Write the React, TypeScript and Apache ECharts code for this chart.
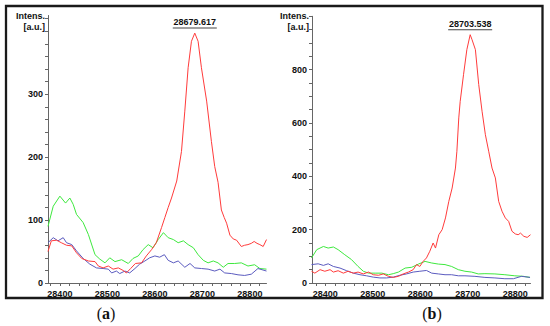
import React, { useEffect, useRef } from "react";
import * as echarts from "echarts";

// ---------- Panel (a) ----------
const massA_red = [28375, 28382, 28393, 28403, 28414, 28425, 28435, 28446, 28460, 28474, 28481, 28491, 28502, 28512, 28523, 28533, 28540, 28549, 28559, 28572, 28582, 28593, 28603, 28614, 28621, 28628, 28635, 28646, 28656, 28663, 28670, 28677, 28684, 28691, 28698, 28709, 28719, 28726, 28733, 28740, 28746, 28751, 28758, 28765, 28772, 28778, 28782, 28789, 28796, 28803, 28809, 28815, 28821, 28828, 28835];
const intA_red = [50, 67, 68, 64, 60, 59, 48, 39, 35, 34, 27, 24, 27, 22, 24, 20, 16, 23, 31, 32, 43, 53, 64, 88, 104, 120, 135, 162, 209, 273, 342, 384, 397, 384, 342, 289, 225, 185, 160, 116, 104, 95, 76, 70, 68, 62, 58, 60, 61, 63, 66, 63, 61, 58, 69];

const massA_green = [28375, 28386, 28400, 28412, 28421, 28428, 28435, 28449, 28460, 28474, 28484, 28495, 28505, 28516, 28530, 28544, 28554, 28565, 28575, 28586, 28596, 28607, 28618, 28628, 28639, 28649, 28660, 28670, 28681, 28691, 28702, 28712, 28723, 28733, 28744, 28754, 28768, 28782, 28796, 28810, 28821, 28835];
const intA_green = [90, 122, 138, 127, 135, 125, 109, 96, 77, 45, 38, 32, 40, 34, 37, 31, 39, 43, 53, 61, 56, 69, 80, 72, 69, 64, 67, 61, 56, 45, 36, 32, 35, 32, 25, 31, 31, 32, 27, 29, 23, 22];

const massA_blue = [28375, 28386, 28396, 28407, 28414, 28425, 28435, 28449, 28463, 28477, 28491, 28502, 28509, 28519, 28526, 28537, 28547, 28558, 28568, 28579, 28589, 28600, 28610, 28620, 28628, 28639, 28649, 28663, 28674, 28684, 28698, 28712, 28726, 28737, 28747, 28761, 28775, 28789, 28803, 28817, 28835];
const intA_blue = [64, 72, 67, 72, 64, 61, 51, 39, 30, 24, 23, 22, 16, 19, 15, 19, 16, 23, 30, 35, 40, 43, 41, 45, 36, 32, 35, 25, 31, 24, 23, 22, 19, 22, 16, 15, 13, 12, 14, 23, 19];

// ---------- Panel (b) ----------
const massB_red = [28371, 28378, 28389, 28399, 28410, 28417, 28427, 28438, 28448, 28459, 28469, 28480, 28491, 28501, 28512, 28522, 28533, 28543, 28554, 28564, 28575, 28585, 28592, 28599, 28606, 28613, 28620, 28627, 28632, 28639, 28646, 28653, 28660, 28667, 28674, 28677, 28681, 28684, 28691, 28698, 28705, 28709, 28716, 28723, 28730, 28737, 28744, 28751, 28758, 28765, 28772, 28779, 28786, 28793, 28800, 28806, 28811, 28818, 28825, 28832];
const intB_red = [44, 37, 50, 44, 50, 41, 46, 37, 44, 37, 41, 34, 41, 31, 29, 34, 25, 21, 25, 34, 41, 50, 69, 62, 81, 94, 119, 150, 131, 181, 200, 244, 306, 356, 431, 494, 619, 681, 781, 875, 931, 912, 875, 744, 644, 556, 494, 431, 394, 306, 269, 244, 231, 194, 184, 181, 187, 175, 171, 181];

const massB_green = [28371, 28382, 28396, 28406, 28417, 28427, 28441, 28455, 28469, 28480, 28491, 28505, 28519, 28533, 28543, 28554, 28568, 28582, 28596, 28610, 28624, 28638, 28652, 28666, 28680, 28694, 28708, 28722, 28736, 28757, 28778, 28799, 28817, 28831];
const intB_green = [94, 125, 137, 131, 135, 125, 106, 88, 62, 44, 37, 37, 37, 31, 35, 41, 56, 59, 71, 81, 75, 71, 69, 62, 50, 44, 41, 34, 35, 34, 31, 27, 25, 21];

const massB_blue = [28371, 28385, 28396, 28406, 28417, 28431, 28445, 28459, 28473, 28487, 28501, 28515, 28529, 28543, 28557, 28571, 28585, 28599, 28613, 28624, 28638, 28652, 28666, 28680, 28694, 28715, 28736, 28757, 28778, 28796, 28813, 28831];
const intB_blue = [69, 72, 66, 72, 62, 56, 46, 37, 31, 27, 22, 19, 19, 22, 29, 34, 41, 44, 47, 37, 34, 31, 31, 27, 27, 25, 21, 19, 16, 16, 25, 21];

// ---------- Ticks / labels ----------
const xTickLabels = [28400, 28500, 28600, 28700, 28800];
const yTickLabelsA = [0, 100, 200, 300];
const yTickLabelsB = [0, 200, 400, 600, 800];
const peakA = { mass: 28684, intensity: 397, label: "28679.617" };
const peakB = { mass: 28705, intensity: 931, label: "28703.538" };

const RED = "#ff3b3b";
const GREEN = "#3ee83e";
const BLUE = "#5b5bbf";
const FONT = "Liberation Sans";

function pairs(m: number[], v: number[]) {
  return m.map((x, i) => [x, v[i]]);
}
function range(from: number, to: number, step: number) {
  const out: number[] = [];
  for (let v = from; v <= to + 1e-9; v += step) out.push(v);
  return out;
}

export default function App() {
  const ref = useRef<HTMLDivElement>(null);
  useEffect(() => {
    if (!ref.current) return;
    const chart = echarts.init(ref.current, undefined, { renderer: "svg" });

    const axisLineStyle = { lineStyle: { color: "#666", width: 1 } };
    const labelStyle = { fontFamily: FONT, fontSize: 9, fontWeight: "bold" as const, color: "#111" };
    const plain = (v: number) => String(Math.round(v));

    const xAxis = (gridIndex: number, min: number, max: number) => ({
      type: "value",
      gridIndex,
      min,
      max,
      axisLine: axisLineStyle,
      splitLine: { show: false },
      axisTick: { show: true, length: 3, lineStyle: { color: "#666" }, customValues: range(28380, 28820, 20).filter((v) => v > min && v < max) },
      axisLabel: { ...labelStyle, margin: 6, customValues: xTickLabels, formatter: plain },
    });
    const yAxis = (gridIndex: number, max: number, tickStep: number, labels: number[]) => ({
      type: "value",
      gridIndex,
      min: 0,
      max,
      axisLine: { show: true, ...axisLineStyle },
      splitLine: { show: false },
      axisTick: { show: true, length: 3, lineStyle: { color: "#666" }, customValues: range(0, max, tickStep) },
      axisLabel: { ...labelStyle, margin: 5, customValues: labels, formatter: plain },
    });

    const line = (name: string, data: number[][], color: string, idx: number, z: number) => ({
      type: "line",
      name,
      xAxisIndex: idx,
      yAxisIndex: idx,
      data,
      showSymbol: false,
      symbol: "none",
      lineStyle: { color, width: 1 },
      z,
    });

    const peakMark = (p: { mass: number; intensity: number; label: string }) => ({
      silent: true,
      data: [
        {
          coord: [p.mass, p.intensity],
          symbol: "rect",
          symbolSize: [44, 1],
          symbolOffset: [0, -5],
          itemStyle: { color: "#444" },
          label: {
            show: true,
            position: "top",
            distance: 1,
            formatter: p.label,
            fontFamily: FONT,
            fontSize: 9,
            fontWeight: "bold",
            color: "#111",
          },
        },
      ],
    });

    const redA = line("red a", pairs(massA_red, intA_red), RED, 0, 5);
    (redA as any).markPoint = peakMark(peakA);
    const redB = line("red b", pairs(massB_red, intB_red), RED, 1, 5);
    (redB as any).markPoint = peakMark(peakB);

    const axisNameText = (x: number, y: number, text: string) => ({
      type: "text",
      x,
      y,
      style: { text, fontFamily: FONT, fontSize: 9, fontWeight: "bold", fill: "#111", align: "right", verticalAlign: "middle" },
    });
    const caption = (x: number, letter: string) => ({
      type: "text",
      x,
      y: 313,
      style: {
        text: "({b|" + letter + "})",
        fontFamily: "Liberation Serif",
        fontSize: 16,
        fill: "#111",
        align: "center",
        verticalAlign: "middle",
        rich: { b: { fontFamily: "Liberation Serif", fontSize: 16, fontWeight: "bold", fill: "#111" } },
      },
    });

    chart.setOption({
      animation: false,
      backgroundColor: "#fff",
      grid: [
        { left: 48, top: 15.5, right: 283.5, bottom: 43 },
        { left: 312, top: 16.3, right: 19.5, bottom: 43 },
      ],
      xAxis: [xAxis(0, 28375, 28835), xAxis(1, 28372, 28832)],
      yAxis: [yAxis(0, 425, 20, yTickLabelsA), yAxis(1, 1000, 50, yTickLabelsB)],
      series: [
        line("green a", pairs(massA_green, intA_green), GREEN, 0, 3),
        line("blue a", pairs(massA_blue, intA_blue), BLUE, 0, 4),
        redA,
        line("green b", pairs(massB_green, intB_green), GREEN, 1, 3),
        line("blue b", pairs(massB_blue, intB_blue), BLUE, 1, 4),
        redB,
      ],
      graphic: [
        { type: "rect", shape: { x: 6, y: 6, width: 536.5, height: 292 }, style: { fill: "none", stroke: "#1a1a1a", lineWidth: 2.3 }, z: 10 },
        axisNameText(45, 16, "Intens."),
        axisNameText(45, 27, "[a.u.]"),
        axisNameText(309, 16, "Intens."),
        axisNameText(309, 27, "[a.u.]"),
        caption(106, "a"),
        caption(432, "b"),
      ],
    });
    return () => chart.dispose();
  }, []);
  return <div ref={ref} style={{ position: "fixed", left: 0, top: 0, width: 550, height: 326 }} />;
}
